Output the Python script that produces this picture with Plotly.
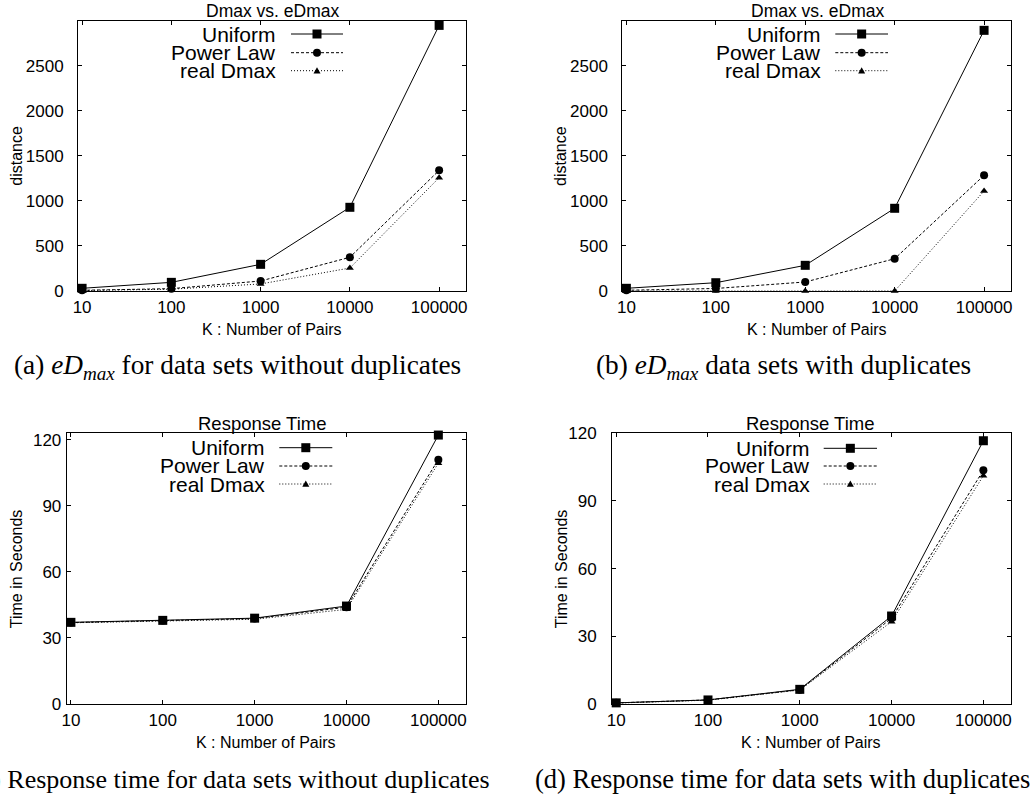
import math
import plotly.graph_objects as go

# ---------------- data ----------------
K = [10, 100, 1000, 10000, 100000]
k_labels = ["10", "100", "1000", "10000", "100000"]
series_names = ["Uniform", "Power Law", "real Dmax"]

# (a) eDmax, data sets without duplicates
dist_nodup_uniform = [30, 96, 296, 929, 2948]
dist_nodup_power = [8, 26, 111, 374, 1339]
dist_nodup_real = [5, 20, 78, 255, 1257]

# (b) eDmax, data sets with duplicates
dist_dup_uniform = [30, 92, 285, 918, 2893]
dist_dup_power = [8, 28, 100, 358, 1284]
dist_dup_real = [0, 0, 0, 0, 1110]

# (c) response time, without duplicates
time_nodup_uniform = [37.1, 38.0, 39.0, 44.5, 122.2]
time_nodup_power = [37.0, 37.9, 38.8, 44.0, 111.0]
time_nodup_real = [36.9, 37.8, 38.5, 43.0, 109.4]

# (d) response time, with duplicates
time_dup_uniform = [0.5, 1.8, 6.5, 39.0, 116.7]
time_dup_power = [0.5, 1.8, 6.3, 38.0, 103.6]
time_dup_real = [0.4, 1.7, 6.2, 36.5, 101.2]

dist_ticks = [0, 500, 1000, 1500, 2000, 2500]
time_ticks = [0, 30, 60, 90, 120]

titles = ["Dmax vs. eDmax", "Dmax vs. eDmax", "Response Time", "Response Time"]
ytitles = ["distance", "distance", "Time in Seconds", "Time in Seconds"]
xtitle = "K : Number of Pairs"
captions = [
    "(a) <i>eD</i><sub><i>max</i></sub> for data sets without duplicates",
    "(b) <i>eD</i><sub><i>max</i></sub> data sets with duplicates",
    "(c) Response time for data sets without duplicates",
    "(d) Response time for data sets with duplicates",
]

# ---------------- layout helpers ----------------
W, H = 1034, 794
SANS = "Liberation Sans, Arial, Helvetica, sans-serif"
SERIF = "Liberation Serif, Times New Roman, serif"


def px(x):
    return x / W


def py(y):
    return 1 - y / H


styles = [
    dict(dash="solid", symbol="square", size=9),
    dict(dash="3px,2px", symbol="circle", size=8),
    dict(dash="1px,2px", symbol="triangle-up", size=7),
]

panels = [
    dict(series=[dist_nodup_uniform, dist_nodup_power, dist_nodup_real],
         box=(78, 466, 20.7, 291), yrange=[0, 3000], yticks=dist_ticks,
         ystand=10, title=(272, 11, 17.5), ytitle=(16.7, 156), xt=(272, 329),
         leg=(278, 291, 343, [34, 52.7, 70.7]), cap=(237, 367, "center", 27.3)),
    dict(series=[dist_dup_uniform, dist_dup_power, dist_dup_real],
         box=(622.3, 1011, 20.7, 291), yrange=[0, 3000], yticks=dist_ticks,
         ystand=10, title=(817, 11, 17.5), ytitle=(561, 156), xt=(816.5, 329),
         leg=(823, 835.3, 888, [34, 52.7, 70.7]), cap=(783, 367, "center", 27.3)),
    dict(series=[time_nodup_uniform, time_nodup_power, time_nodup_real],
         box=(66.7, 466, 433.3, 704), yrange=[0, 123], yticks=time_ticks,
         ystand=1, title=(262, 423.5, 18.5), ytitle=(16.7, 568.5), xt=(266, 742),
         leg=(266.7, 279.3, 332.3, [447.7, 466, 484]), cap=(491.7, 779, "right", 26)),
    dict(series=[time_dup_uniform, time_dup_power, time_dup_real],
         box=(612, 1011, 433.3, 704), yrange=[0, 120], yticks=time_ticks,
         ystand=11, title=(810, 423.5, 18.5), ytitle=(561.7, 568.5), xt=(811, 742),
         leg=(812, 823.7, 877, [448.3, 466, 484]), cap=(782, 779, "center", 26.5)),
]

fig = go.Figure()
annotations = []
shapes = []
layout_axes = {}

for i, p in enumerate(panels):
    n = i + 1
    xa = "x" if n == 1 else f"x{n}"
    ya = "y" if n == 1 else f"y{n}"
    for s, (vals, st, name) in enumerate(zip(p["series"], styles, series_names)):
        fig.add_trace(go.Scatter(
            x=K, y=vals, name=name, mode="lines+markers", xaxis=xa, yaxis=ya,
            line=dict(color="black", width=1, dash=st["dash"]),
            marker=dict(symbol=st["symbol"], size=st["size"], color="black",
                        line=dict(width=0)),
            cliponaxis=False, showlegend=False))

    l, r, t, b = p["box"]
    common = dict(showline=True, linecolor="black", linewidth=1, mirror="allticks",
                  ticks="inside", ticklen=4, tickwidth=1, tickcolor="black",
                  showgrid=False, zeroline=False, automargin=False,
                  tickfont=dict(family=SANS, size=17, color="black"))
    layout_axes["xaxis" if n == 1 else f"xaxis{n}"] = dict(
        type="log", range=[math.log10(9), math.log10(200000)],
        tickvals=K, ticktext=k_labels, domain=[px(l), px(r)],
        anchor=ya, ticklabelstandoff=1, **common)
    layout_axes["yaxis" if n == 1 else f"yaxis{n}"] = dict(
        range=p["yrange"], tickvals=p["yticks"], domain=[py(b), py(t)],
        anchor=xa, ticklabelstandoff=p["ystand"], **common)

    tx, ty, tsz = p["title"]
    annotations.append(dict(text=titles[i], x=px(tx), y=py(ty), xref="paper", yref="paper",
                            showarrow=False, xanchor="center", yanchor="middle",
                            font=dict(family=SANS, size=tsz, color="black")))
    yx, yy = p["ytitle"]
    annotations.append(dict(text=ytitles[i], x=px(yx), y=py(yy), xref="paper", yref="paper",
                            showarrow=False, xanchor="center", yanchor="middle", textangle=-90,
                            font=dict(family=SANS, size=16, color="black")))
    xx, xy = p["xt"]
    annotations.append(dict(text=xtitle, x=px(xx), y=py(xy), xref="paper", yref="paper",
                            showarrow=False, xanchor="center", yanchor="middle",
                            font=dict(family=SANS, size=16, color="black")))
    cx, cy, canc, csz = p["cap"]
    annotations.append(dict(text=captions[i], x=px(cx), y=py(cy), xref="paper", yref="paper",
                            showarrow=False, xanchor=canc, yanchor="middle",
                            font=dict(family=SERIF, size=csz, color="black")))

    # legend (text on the left, key on the right, as in the original)
    txt_r, lx0, lx1, rows = p["leg"]
    mx = (lx0 + lx1) / 2
    for s, (name, st, ry) in enumerate(zip(series_names, styles, rows)):
        annotations.append(dict(text=name, x=px(txt_r), y=py(ry), xref="paper", yref="paper",
                                showarrow=False, xanchor="right", yanchor="middle",
                                font=dict(family=SANS, size=21, color="black")))
        shapes.append(dict(type="line", xref="paper", yref="paper",
                           x0=px(lx0), x1=px(lx1), y0=py(ry), y1=py(ry),
                           line=dict(color="black", width=1, dash=st["dash"])))
        h = st["size"] / 2
        if st["symbol"] == "square":
            shapes.append(dict(type="rect", xref="paper", yref="paper",
                               x0=px(mx - h), x1=px(mx + h), y0=py(ry + h), y1=py(ry - h),
                               fillcolor="black", line=dict(width=0)))
        elif st["symbol"] == "circle":
            shapes.append(dict(type="circle", xref="paper", yref="paper",
                               x0=px(mx - h), x1=px(mx + h), y0=py(ry + h), y1=py(ry - h),
                               fillcolor="black", line=dict(width=0)))
        else:
            path = (f"M {px(mx - h)},{py(ry + h * 0.8)} L {px(mx + h)},{py(ry + h * 0.8)} "
                    f"L {px(mx)},{py(ry - h)} Z")
            shapes.append(dict(type="path", xref="paper", yref="paper", path=path,
                               fillcolor="black", line=dict(width=0)))

fig.update_layout(
    width=W, height=H, margin=dict(l=0, r=0, t=0, b=0),
    paper_bgcolor="white", plot_bgcolor="white",
    annotations=annotations, shapes=shapes, showlegend=False,
    **layout_axes)

fig.write_html("out.html", config={"displayModeBar": False},
               post_script="document.body.style.margin='0px';")
